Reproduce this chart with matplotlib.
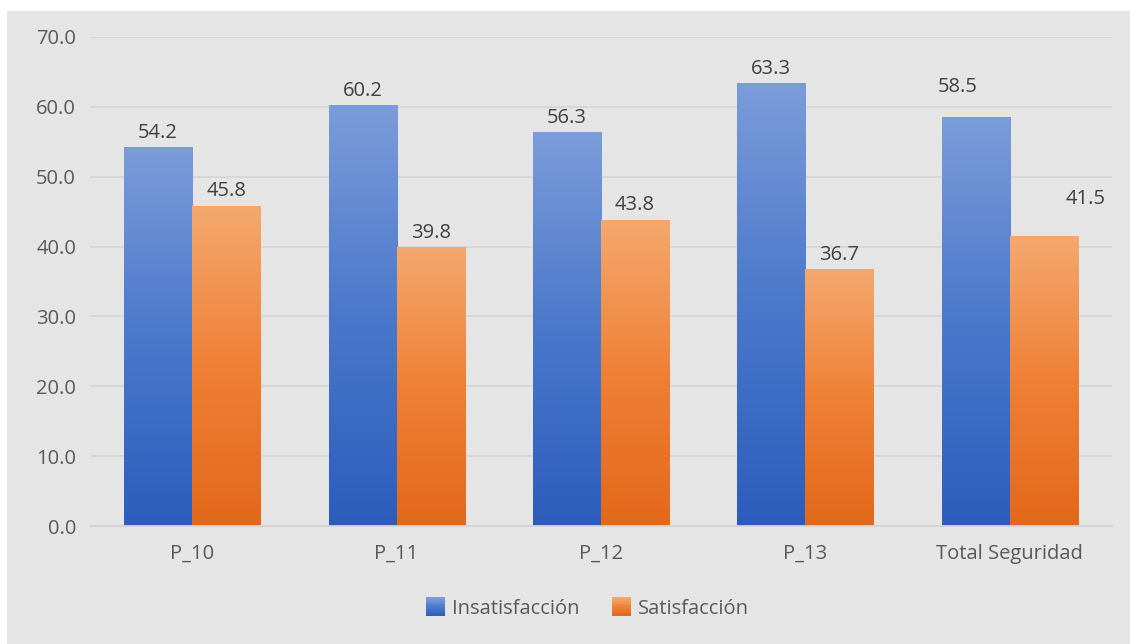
import numpy as np
import matplotlib
matplotlib.use("Agg")
import matplotlib.pyplot as plt
from matplotlib.colors import LinearSegmentedColormap
from matplotlib.patches import Rectangle
from matplotlib.legend_handler import HandlerBase

categories = ["P_10", "P_11", "P_12", "P_13", "Total Seguridad"]
insatisfaccion = [54.2, 60.2, 56.3, 63.3, 58.5]
satisfaccion = [45.8, 39.8, 43.8, 36.7, 41.5]
y_ticks = [0, 10, 20, 30, 40, 50, 60, 70]
series_names = ["Insatisfacción", "Satisfacción"]

plt.rcParams["font.family"] = ["Open Sans", "DejaVu Sans"]
text_color = "#595959"
font_size = 14.5

blue_cmap = LinearSegmentedColormap.from_list("blue", ["#2c5dbc", "#4a78cb", "#7b9cd9"])
orange_cmap = LinearSegmentedColormap.from_list("orange", ["#e2681b", "#ef8035", "#f4a86f"])

fig = plt.figure(figsize=(11.30, 6.44), dpi=100, facecolor="white")
fig.patches.append(Rectangle((7 / 1130, 0), 1 - 7 / 1130, (644 - 11) / 644,
                             transform=fig.transFigure, facecolor="#e5e5e5",
                             edgecolor="none", zorder=-5))

ax = fig.add_axes([90 / 1130, (644 - 526) / 644, (1112 - 90) / 1130, (526 - 37) / 644])
ax.set_facecolor("none")
ax.set_zorder(1)

width = 0.333
grad = np.linspace(0, 1, 256).reshape(-1, 1)


def gradient_bar(x_center, h, cmap):
    ax.imshow(grad, cmap=cmap, origin="lower", aspect="auto",
              extent=(x_center - width / 2, x_center + width / 2, 0, h), zorder=2)


x = np.arange(len(categories))
for i in range(len(categories)):
    gradient_bar(x[i] - width / 2, insatisfaccion[i], blue_cmap)
    gradient_bar(x[i] + width / 2, satisfaccion[i], orange_cmap)

# Value labels; the last group's labels sit offset like the original layout
label_offsets_blue = [(0, 10.5)] * 4 + [(-13, 22)]
label_offsets_orange = [(0, 10.5)] * 4 + [(30, 27)]
for i in range(len(categories)):
    ax.annotate(f"{insatisfaccion[i]:.1f}", (x[i] - width / 2, insatisfaccion[i]),
                xytext=label_offsets_blue[i], textcoords="offset points",
                ha="center", va="center", fontsize=font_size, color="#404040", zorder=4)
    ax.annotate(f"{satisfaccion[i]:.1f}", (x[i] + width / 2, satisfaccion[i]),
                xytext=label_offsets_orange[i], textcoords="offset points",
                ha="center", va="center", fontsize=font_size, color="#404040", zorder=4)

ax.set_xlim(-0.5, len(categories) - 0.5)
ax.set_ylim(0, 70)
ax.set_yticks(y_ticks)
ax.set_yticklabels([f"{v:.1f}" for v in y_ticks])
ax.set_xticks(x)
ax.set_xticklabels(categories)
ax.tick_params(axis="y", length=0, pad=10, labelsize=font_size, labelcolor=text_color)
ax.tick_params(axis="x", length=0, pad=13, labelsize=font_size, labelcolor=text_color)
ax.grid(axis="y", color="#d6d6d6", linewidth=1.3, zorder=1)
ax.set_axisbelow(True)
for side in ["top", "right", "left"]:
    ax.spines[side].set_visible(False)
ax.spines["bottom"].set_color("#d3d3d3")
ax.spines["bottom"].set_linewidth(1.3)


class GradientHandler(HandlerBase):
    def __init__(self, cmap):
        super().__init__()
        self.cmap = cmap

    def create_artists(self, legend, orig_handle, xdescent, ydescent, width_, height_, fontsize, trans):
        size = height_ * 1.35
        x0 = -xdescent + (width_ - size) / 2
        y0 = -ydescent + (height_ - size) / 2
        artists = []
        n = 12
        for k in range(n):
            c = self.cmap(k / (n - 1))
            artists.append(Rectangle((x0, y0 + k * size / n), size, size / n + 0.2,
                                     facecolor=c, edgecolor="none", transform=trans))
        return artists


h1 = Rectangle((0, 0), 1, 1)
h2 = Rectangle((0, 0), 1, 1)
leg = fig.legend([h1, h2], series_names, loc="center", bbox_to_anchor=(587 / 1130, (644 - 609) / 644),
                 ncol=2, frameon=False, fontsize=font_size, handlelength=1.0, handletextpad=0.3,
                 columnspacing=1.6,
                 handler_map={h1: GradientHandler(blue_cmap), h2: GradientHandler(orange_cmap)})
for t in leg.get_texts():
    t.set_color(text_color)

fig.savefig("out.png", dpi=100, facecolor=fig.get_facecolor())
